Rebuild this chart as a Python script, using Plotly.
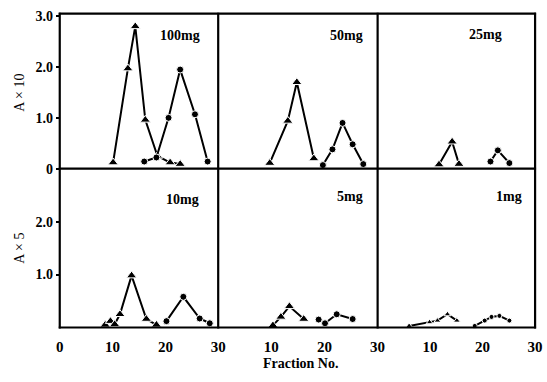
import plotly.graph_objects as go

# ---- data (fraction no., absorbance) ----
p100_tri_x = [10.1, 12.9, 14.3, 16.2, 18.5, 20.9, 22.8]
p100_tri_y = [0.12, 1.97, 2.80, 0.96, 0.25, 0.12, 0.09]
p100_cir_x = [16.0, 18.3, 20.6, 22.8, 25.6, 28.0]
p100_cir_y = [0.14, 0.22, 1.00, 1.95, 1.07, 0.14]

p50_tri_x = [9.7, 13.1, 14.8, 18.0]
p50_tri_y = [0.11, 0.94, 1.70, 0.20]
p50_cir_x = [19.7, 21.5, 23.4, 25.3, 27.3]
p50_cir_y = [0.07, 0.38, 0.90, 0.48, 0.09]

p25_tri_x = [11.7, 14.2, 15.5]
p25_tri_y = [0.08, 0.53, 0.09]
p25_cir_x = [21.5, 22.9, 25.1]
p25_cir_y = [0.14, 0.36, 0.11]

p10_tri_x = [8.6, 9.6, 10.4, 11.4, 13.6, 16.4, 18.3]
p10_tri_y = [0.05, 0.12, 0.06, 0.25, 0.98, 0.16, 0.05]
p10_cir_x = [20.2, 23.4, 26.5, 28.4]
p10_cir_y = [0.12, 0.58, 0.17, 0.08]

p5_tri_x = [10.3, 11.8, 13.4, 16.1]
p5_tri_y = [0.04, 0.20, 0.40, 0.16]
p5_cir_x = [18.9, 20.1, 22.3, 25.3]
p5_cir_y = [0.15, 0.08, 0.25, 0.16]

p1_tri_x = [6.0, 9.9, 11.4, 13.3, 15.1]
p1_tri_y = [0.03, 0.10, 0.13, 0.25, 0.13]
p1_cir_x = [18.5, 20.4, 21.7, 23.2, 25.1]
p1_cir_y = [0.03, 0.13, 0.20, 0.22, 0.13]

panel_labels = ["100mg", "50mg", "25mg", "10mg", "5mg", "1mg"]
top_yticks = [0, 1, 2, 3]
top_ytext = ["0", "1.0", "2.0", "3.0"]
bot_yticks = [1, 2]
bot_ytext = ["1.0", "2.0"]
first_xticks = [0, 10, 20, 30]
other_xticks = [10, 20, 30]

panels = [
    (p100_tri_x, p100_tri_y, p100_cir_x, p100_cir_y),
    (p50_tri_x, p50_tri_y, p50_cir_x, p50_cir_y),
    (p25_tri_x, p25_tri_y, p25_cir_x, p25_cir_y),
    (p10_tri_x, p10_tri_y, p10_cir_x, p10_cir_y),
    (p5_tri_x, p5_tri_y, p5_cir_x, p5_cir_y),
    (p1_tri_x, p1_tri_y, p1_cir_x, p1_cir_y),
]

W, H = 547, 382
FONT = "Liberation Serif"

def px(x):
    return x / W

def py(y):
    return 1 - y / H

col_px = [(57, 219), (219, 382), (382, 543)]
row_px = [(10, 170), (170, 334)]

fig = go.Figure()
layout = {}
for i, (tx, ty, cx, cy) in enumerate(panels):
    n = i + 1
    r, c = divmod(i, 3)
    xa = "x" if n == 1 else f"x{n}"
    ya = "y" if n == 1 else f"y{n}"
    small = (i == 5)
    fig.add_trace(go.Scatter(
        x=tx, y=ty, xaxis=xa, yaxis=ya, mode="lines+markers", cliponaxis=False,
        line=dict(color="black", width=2),
        marker=dict(symbol="triangle-up", size=6 if small else 9, color="black",
                    line=dict(color="white", width=1)),
        showlegend=False, hoverinfo="skip"))
    fig.add_trace(go.Scatter(
        x=cx, y=cy, xaxis=xa, yaxis=ya, mode="lines+markers", cliponaxis=False,
        line=dict(color="black", width=2),
        marker=dict(symbol="circle", size=5 if small else 7, color="black",
                    line=dict(color="white", width=1)),
        showlegend=False, hoverinfo="skip"))

    x0, x1 = col_px[c]
    y0, y1 = row_px[r]
    xkey = "xaxis" if n == 1 else f"xaxis{n}"
    ykey = "yaxis" if n == 1 else f"yaxis{n}"
    if r == 1:
        xt = first_xticks if c == 0 else other_xticks
        xaxis = dict(tickmode="array", tickvals=xt, ticktext=[f"<b>{v}</b>" for v in xt],
                     showticklabels=True, ticks="", ticklabelstandoff=8)
    else:
        xaxis = dict(showticklabels=False, ticks="")
    xaxis.update(domain=[px(x0), px(x1)], range=[0, 30], anchor=ya,
                 showgrid=False, zeroline=False, showline=False,
                 tickfont=dict(family=FONT, size=15, color="black"))
    if c == 0:
        yt, ytt = (top_yticks, top_ytext) if r == 0 else (bot_yticks, bot_ytext)
        yaxis = dict(tickmode="array", tickvals=yt, ticktext=[f"<b>{t}</b>" for t in ytt],
                     showticklabels=True, ticks="outside", ticklen=3, tickwidth=1.5,
                     tickcolor="black")
    else:
        yaxis = dict(showticklabels=False, ticks="")
    yaxis.update(domain=[py(y1), py(y0)], range=[0, 3.05] if r == 0 else [0, 3.0],
                 anchor=xa, showgrid=False, zeroline=False, showline=False,
                 tickfont=dict(family=FONT, size=14, color="black"))
    layout[xkey] = xaxis
    layout[ykey] = yaxis

# frame lines (shared borders drawn once)
shapes = []
for xv in [57, 219, 382, 543]:
    shapes.append(dict(type="line", xref="paper", yref="paper",
                       x0=px(xv), x1=px(xv), y0=py(335), y1=py(9),
                       line=dict(color="black", width=2.2)))
for yv in [10, 170, 334]:
    shapes.append(dict(type="line", xref="paper", yref="paper",
                       x0=px(56), x1=px(544), y0=py(yv), y1=py(yv),
                       line=dict(color="black", width=2.2)))

label_pos = [(180, 33), (350, 33), (492, 31), (182, 202), (354, 199), (516, 199)]
annotations = []
for txt, (lx, ly) in zip(panel_labels, label_pos):
    annotations.append(dict(text=f"<b>{txt}</b>", x=px(lx), y=py(ly), xref="paper", yref="paper",
                            showarrow=False, xanchor="center", yanchor="middle",
                            font=dict(family=FONT, size=14, color="black")))
annotations.append(dict(text="A × 10", x=px(15), y=py(92), xref="paper", yref="paper",
                        showarrow=False, textangle=-90, xanchor="center", yanchor="middle",
                        font=dict(family=FONT, size=14, color="black")))
annotations.append(dict(text="A × 5", x=px(15), y=py(252), xref="paper", yref="paper",
                        showarrow=False, textangle=-90, xanchor="center", yanchor="middle",
                        font=dict(family=FONT, size=14, color="black")))
annotations.append(dict(text="<b>Fraction No.</b>", x=px(303), y=py(371), xref="paper", yref="paper",
                        showarrow=False, xanchor="center", yanchor="middle",
                        font=dict(family=FONT, size=14, color="black")))

fig.update_layout(width=W, height=H, margin=dict(l=0, r=0, t=0, b=0),
                  paper_bgcolor="white", plot_bgcolor="white",
                  annotations=annotations, shapes=shapes, **layout)

fig.write_html("out.html")
